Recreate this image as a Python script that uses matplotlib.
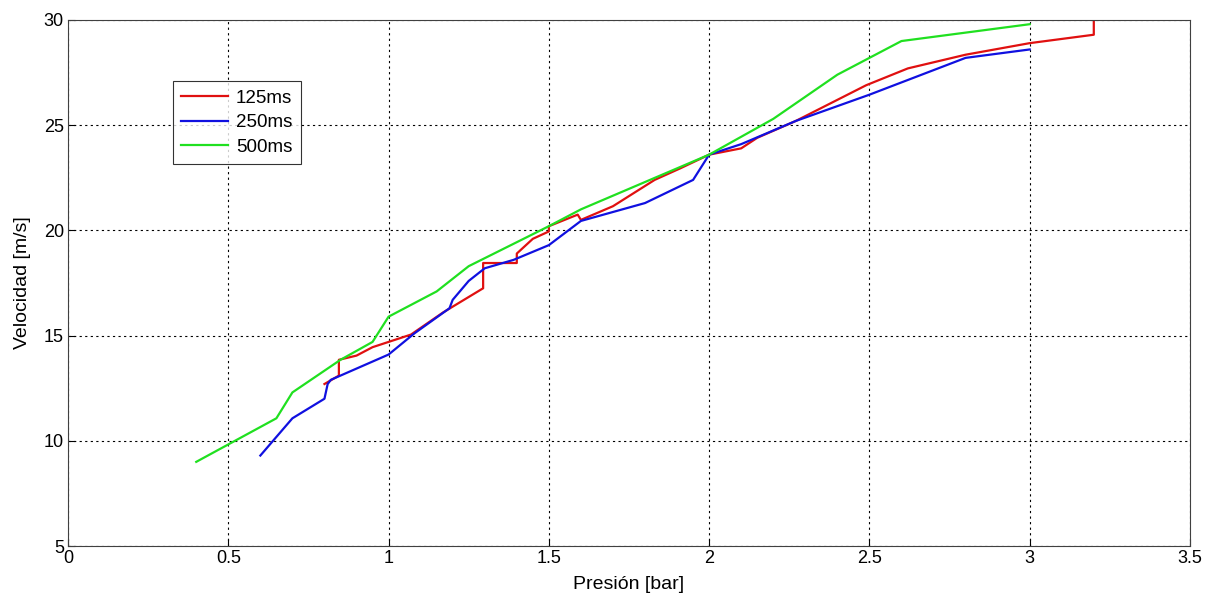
import matplotlib
matplotlib.use("Agg")
import matplotlib.pyplot as plt

plt.rcParams['font.family'] = ['Liberation Sans', 'DejaVu Sans']

# 125ms series
x_125 = [0.8, 0.845, 0.845, 0.9, 0.95, 1.0, 1.07, 1.17, 1.295, 1.295, 1.4, 1.4, 1.45, 1.5, 1.5,
         1.59, 1.6, 1.7, 1.83, 1.91, 2.0, 2.1, 2.15, 2.27, 2.49, 2.62, 2.8, 3.0, 3.2, 3.2]
y_125 = [12.7, 13.1, 13.85, 14.05, 14.45, 14.7, 15.05, 16.1, 17.25, 18.45, 18.45, 18.9, 19.6, 19.95, 20.2,
         20.75, 20.5, 21.15, 22.4, 22.95, 23.6, 23.9, 24.4, 25.2, 26.9, 27.7, 28.35, 28.9, 29.3, 29.9]

# 250ms series
x_250 = [0.6, 0.7, 0.8, 0.81, 0.82, 1.0, 1.08, 1.19, 1.2, 1.25, 1.3, 1.39, 1.5, 1.6, 1.8, 1.95,
         2.0, 2.1, 2.27, 2.5, 2.8, 3.0]
y_250 = [9.3, 11.07, 12.0, 12.7, 12.9, 14.1, 15.1, 16.3, 16.7, 17.6, 18.2, 18.6, 19.3, 20.45, 21.3, 22.4,
         23.6, 24.1, 25.2, 26.45, 28.2, 28.6]

# 500ms series
x_500 = [0.4, 0.65, 0.7, 0.85, 0.95, 1.0, 1.15, 1.25, 1.5, 1.6, 2.0, 2.2, 2.4, 2.6, 3.0]
y_500 = [9.0, 11.07, 12.3, 13.85, 14.7, 15.9, 17.1, 18.3, 20.2, 21.0, 23.6, 25.3, 27.4, 29.0, 29.8]

labels = ["125ms", "250ms", "500ms"]

fig = plt.figure(figsize=(12.06, 5.97), dpi=100)
ax = fig.add_axes([0.0564, 0.0854, 0.9303, 0.8811])

ax.plot(x_125, y_125, color='#e01010', lw=1.6, label=labels[0])
ax.plot(x_250, y_250, color='#1010e0', lw=1.6, label=labels[1])
ax.plot(x_500, y_500, color='#20e020', lw=1.6, label=labels[2])

ax.set_xlim(0, 3.5)
ax.set_ylim(5, 30)
ax.set_xticks([0, 0.5, 1, 1.5, 2, 2.5, 3, 3.5])
ax.set_xticklabels(["0", "0.5", "1", "1.5", "2", "2.5", "3", "3.5"])
ax.set_yticks([5, 10, 15, 20, 25, 30])

ax.grid(True, color='black', linestyle=(0, (2, 3)), linewidth=0.8)
ax.tick_params(direction='in', length=5, labelsize=13, pad=3)
for s in ax.spines.values():
    s.set_color('#404040')

ax.set_xlabel("Presión [bar]", fontsize=14, labelpad=6)
ax.set_ylabel("Velocidad [m/s]", fontsize=14, labelpad=9)

leg = ax.legend(loc='upper left', bbox_to_anchor=(0.0936, 0.884), borderaxespad=0,
                fontsize=13.5, frameon=True, fancybox=False, edgecolor='black',
                handlelength=2.5, borderpad=0.45, labelspacing=0.4, handletextpad=0.4)
leg.get_frame().set_linewidth(0.8)

fig.savefig("out.png", dpi=100)
